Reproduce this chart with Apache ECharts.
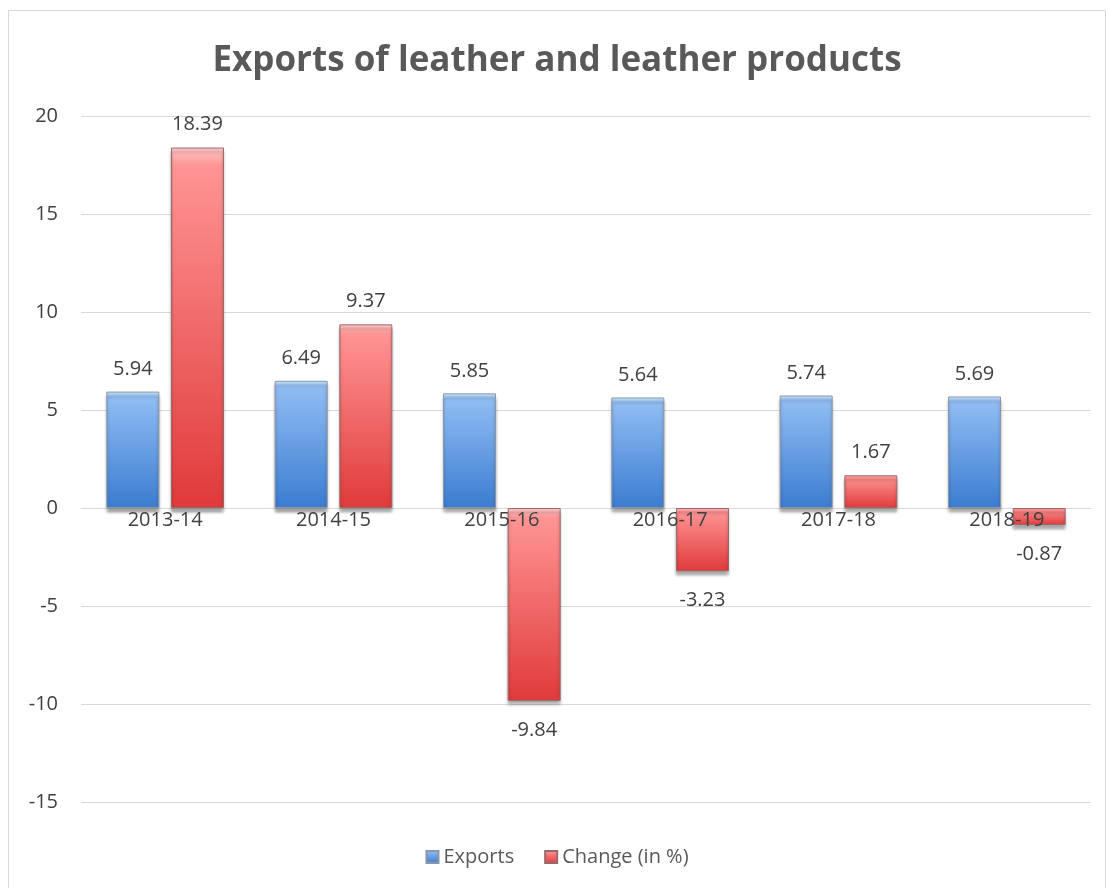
<!DOCTYPE html>
<html>
<head>
    <meta charset="utf-8">
    <title>Exports of leather and leather products</title>
    <style type="text/css">
        html, body { margin: 0; padding: 0; background: #fff; }
        #chart { position: absolute; left: 8px; top: 10px; width: 1098px; height: 880px;
                 border: 1px solid #d9d9d9; box-sizing: border-box; }
    </style>
</head>
<body>
    <div id="chart"></div>
    <script src="https://cdn.jsdelivr.net/npm/echarts@6/dist/echarts.min.js"></script>
    <script type="text/javascript">
        // data
        var years = ['2013-14', '2014-15', '2015-16', '2016-17', '2017-18', '2018-19'];
        var exportsVal = [5.94, 6.49, 5.85, 5.64, 5.74, 5.69];
        var changeVal = [18.39, 9.37, -9.84, -3.23, 1.67, -0.87];

        var font = '"Open Sans", "Liberation Sans", sans-serif';
        var txt = '#404040';

        function grad(hi, top, bottom) {
            return new echarts.graphic.LinearGradient(0, 0, 0, 1, [
                { offset: 0, color: hi },
                { offset: 0.05, color: top },
                { offset: 1, color: bottom }
            ]);
        }

        var barStyle = {
            borderWidth: 1,
            shadowColor: 'rgba(0,0,0,0.35)',
            shadowBlur: 3,
            shadowOffsetY: 4
        };

        // negative change values get their label under the bar
        var changeData = changeVal.map(function (v) {
            return v < 0
                ? { value: v, label: { position: 'bottom', distance: 19 } }
                : { value: v };
        });

        var chart = echarts.init(document.getElementById('chart'));
        chart.setOption({
            animation: false,
            title: {
                text: 'Exports of leather and leather products',
                left: 'center',
                top: 28,
                textStyle: { fontFamily: font, fontSize: 35, fontWeight: 'bold', color: '#595959' }
            },
            legend: {
                bottom: 17,
                left: 'center',
                itemWidth: 12,
                itemHeight: 12,
                itemGap: 30,
                icon: 'rect',
                textStyle: { fontFamily: font, fontSize: 20, color: '#595959' },
                data: ['Exports', 'Change (in %)']
            },
            grid: { left: 72, right: 14, top: 105, bottom: 87 },
            xAxis: {
                type: 'category',
                data: years,
                axisLine: { onZero: true, lineStyle: { color: '#d9d9d9' } },
                axisTick: { show: false },
                axisLabel: { show: false }
            },
            yAxis: {
                type: 'value',
                min: -15,
                max: 20,
                interval: 5,
                axisLine: { show: false },
                axisTick: { show: false },
                axisLabel: { fontFamily: font, fontSize: 20, color: txt, margin: 23 },
                splitLine: { lineStyle: { color: '#d9d9d9', width: 1 } }
            },
            series: [
                {
                    name: 'Exports',
                    type: 'bar',
                    data: exportsVal,
                    barWidth: 53,
                    barGap: '22%',
                    itemStyle: Object.assign({
                        color: grad('#c8e6fc', '#90bdf3', '#3b7cd0'),
                        borderColor: '#8a97a8'
                    }, barStyle),
                    label: {
                        show: true,
                        position: 'top',
                        distance: 12,
                        fontFamily: font,
                        fontSize: 20,
                        color: txt
                    }
                },
                {
                    name: 'Change (in %)',
                    type: 'bar',
                    data: changeData,
                    barWidth: 53,
                    itemStyle: Object.assign({
                        color: grad('#ffc8c8', '#ff9494', '#e03a3a'),
                        borderColor: '#9a6a6a'
                    }, barStyle),
                    label: {
                        show: true,
                        position: 'top',
                        distance: 13,
                        fontFamily: font,
                        fontSize: 20,
                        color: txt
                    }
                },
                {
                    // category labels sitting on the zero line, drawn over the bars
                    name: 'axisLabels',
                    type: 'scatter',
                    data: years.map(function (y) { return [y, 0]; }),
                    symbolSize: 0,
                    z: 10,
                    silent: true,
                    itemStyle: { opacity: 1 },
                    label: {
                        show: true,
                        position: 'bottom',
                        distance: 2,
                        fontFamily: font,
                        fontSize: 20,
                        color: txt,
                        opacity: 1,
                        formatter: function (p) { return p.value[0]; }
                    }
                }
            ]
        });
    </script>
</body>
</html>
